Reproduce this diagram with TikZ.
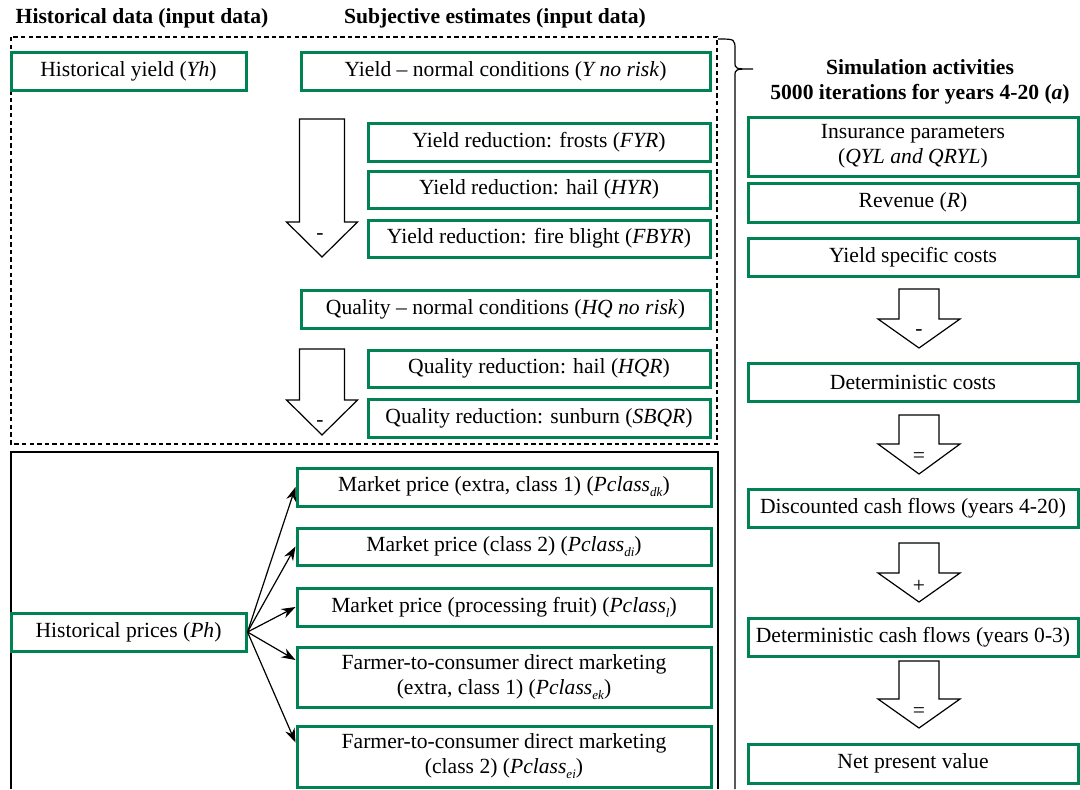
\documentclass[tikz,border=0pt]{standalone}
\usepackage{fontspec}
\setmainfont{Liberation Serif}
\usepackage{xcolor}
\usetikzlibrary{calc, arrows.meta}

\definecolor{boxgreen}{RGB}{0,130,82}

\tikzset{
  gbox/.style={draw=boxgreen, line width=1.5pt, inner sep=0pt, align=center,
    font=\fontsize{10.8}{12.5}\selectfont},
  hdr/.style={font=\fontsize{10.8}{12.5}\selectfont\bfseries, align=center},
  fatarrow/.style={draw, line width=0.6pt, fill=white, line join=miter},
  sign/.style={font=\fontsize{10.8}{12.5}\selectfont, inner sep=0pt},
  feed/.style={-{Stealth[length=7pt,width=5pt]}, line width=0.6pt},
}

% subscript of the price classes
\newcommand{\pcl}[1]{\textit{Pclass}\raisebox{-2.5pt}{\fontsize{6.5}{7}\selectfont\textit{#1}}}

% green box: name, left, top, right, bottom, text
\newcommand{\gnode}[6]{%
  \node[gbox, minimum width={(#4-#2)*0.5pt}, minimum height={(#5-#3)*0.5pt}]
    (#1) at ({(#2+#4)/2},{(#3+#5)/2}) {#6};}

% block arrow: centre x, top, start of head, tip, half shaft, half head
\newcommand{\blockarrow}[6]{%
  \draw[fatarrow] (#1-#5,#2) -- (#1+#5,#2) -- (#1+#5,#3) -- (#1+#6,#3)
    -- (#1,#4) -- (#1-#6,#3) -- (#1-#5,#3) -- cycle;}

\begin{document}
\begin{tikzpicture}[x=0.5pt, y=-0.5pt]
  \useasboundingbox (0,0) rectangle (1080,789);

  % Headers
  \node[hdr] (hhist) at (142,18) {Historical data (input data)};
  \node[hdr] (hsubj) at (495,18) {Subjective estimates (input data)};
  \node[hdr] (hsim) at (920,82) {Simulation activities\\5000 iterations for years 4-20 (\textit{a})};

  % Dashed box (yield and quality) and solid box (prices)
  \draw[dash pattern=on 2.2pt off 1.6pt, line width=0.6pt] (11,37) rectangle (717,444);
  \draw[line width=0.6pt] (11,789) -- (11,452) -- (718,452) -- (718,789);

  % Brace and line of the simulation part
  \draw[line width=0.6pt] (718,39) .. controls (735,39) .. (735,50) -- (735,62)
    .. controls (735,69) .. (753,69) .. controls (735,69) .. (735,76) -- (735,789);

  % Yield
  \gnode{yh}{11}{52}{246}{90}{Historical yield (\textit{Yh})}
  \gnode{ynorisk}{301}{52}{710}{90}{Yield -- normal conditions (\textit{Y no risk})}
  \gnode{fyr}{368}{123}{710}{161}{Yield reduction: frosts (\textit{FYR})}
  \gnode{hyr}{368}{171}{710}{208}{Yield reduction: hail (\textit{HYR})}
  \gnode{fbyr}{368}{220}{710}{257}{Yield reduction: fire blight (\textit{FBYR})}
  \blockarrow{322}{119}{222}{257}{22.5}{35.5}
  \node[sign] (ym) at (320,237) {-};

  % Quality
  \gnode{hqnorisk}{301}{290}{710}{328}{Quality -- normal conditions (\textit{HQ no risk})}
  \gnode{hqr}{368}{350}{710}{387}{Quality reduction: hail (\textit{HQR})}
  \gnode{sbqr}{368}{399}{710}{437}{Quality reduction: sunburn (\textit{SBQR})}
  \blockarrow{322}{349}{400}{435}{22.5}{35.5}
  \node[sign] (qm) at (320,424) {-};

  % Prices
  \gnode{ph}{11}{613}{246}{651}{Historical prices (\textit{Ph})}
  \gnode{pdk}{297}{468}{711}{506}{Market price (extra, class 1) (\pcl{dk})}
  \gnode{pdi}{297}{528}{711}{565}{Market price (class 2) (\pcl{di})}
  \gnode{pl}{297}{588}{711}{626}{Market price (processing fruit) (\pcl{l})}
  \gnode{pek}{297}{647}{711}{707}{Farmer-to-consumer direct marketing\\(extra, class 1) (\pcl{ek})}
  \gnode{pei}{297}{726}{711}{787}{Farmer-to-consumer direct marketing\\(class 2) (\pcl{ei})}
  \draw[feed] (ph.east) -- (pdk.west);
  \draw[feed] (ph.east) -- (pdi.west);
  \draw[feed] (ph.east) -- (pl.west);
  \draw[feed] (ph.east) -- ([yshift=8.5pt]pek.west);
  \draw[feed] (ph.east) -- ([yshift=7pt]pei.west);

  % Simulation activities
  \gnode{ins}{748}{117}{1078}{176}{Insurance parameters\\(\textit{QYL and QRYL})}
  \gnode{rev}{748}{183}{1078}{222}{Revenue (\textit{R})}
  \gnode{ysc}{748}{238}{1078}{276}{Yield specific costs}
  \blockarrow{919}{289}{319}{348}{20}{41}
  \node[sign] (s1) at (919,333) {-};
  \gnode{dc}{748}{363}{1078}{401}{Deterministic costs}
  \blockarrow{919}{415}{444}{474}{20}{41}
  \node[sign] (s2) at (919,458) {=};
  \gnode{dcf}{748}{489}{1078}{527}{Discounted cash flows (years 4-20)}
  \blockarrow{919}{543}{573}{602}{20}{41}
  \node[sign] (s3) at (919,586) {+};
  \gnode{detcf}{748}{618}{1078}{656}{Deterministic cash flows (years 0-3)}
  \blockarrow{919}{661}{699}{728}{20}{41}
  \node[sign] (s4) at (919,713) {=};
  \gnode{npv}{748}{744}{1078}{783}{Net present value}
\end{tikzpicture}
\end{document}
